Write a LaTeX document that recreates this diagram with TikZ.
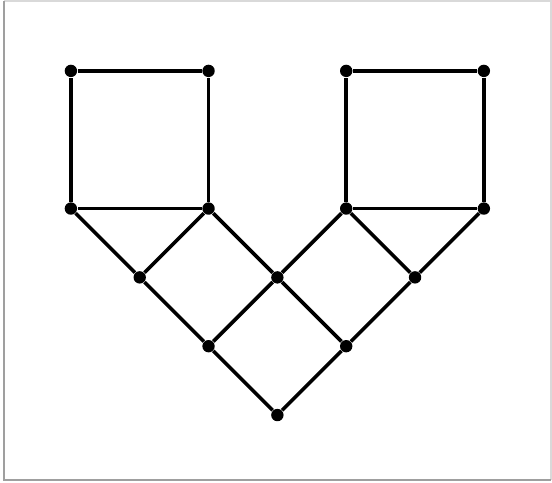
\documentclass[tikz,border=0pt]{standalone}
\usepackage{tikz}
\usetikzlibrary{positioning}
\tikzset{
  vtx/.style={circle,fill=black,inner sep=0pt,minimum size=1.8mm},
  edge/.style={line width=1.5pt,black},
  framel/.style={line width=.8pt,gray!75},
  framer/.style={line width=.8pt,gray!30}
}
\begin{document}
\begin{tikzpicture}
  \useasboundingbox (-1.03,1.03) rectangle (6.99,-5.98);
  % frame
  \coordinate (ftl) at (-0.97,1.01);
  \coordinate (fbl) at (-0.97,-5.95);
  \coordinate (ftr) at (6.97,1.01);
  \coordinate (fbr) at (6.97,-5.95);
  \draw[framer] (ftl)--(ftr)--(fbr);
  \draw[framel] (ftl)--(fbl)--(fbr);
  % squares
  \node[vtx] (a1) at (0,0) {};
  \node[vtx] (a2) at (2,0) {};
  \node[vtx] (a3) at (0,-2) {};
  \node[vtx] (a4) at (2,-2) {};
  \node[vtx] (b1) at (4,0) {};
  \node[vtx] (b2) at (6,0) {};
  \node[vtx] (b3) at (4,-2) {};
  \node[vtx] (b4) at (6,-2) {};
  % lattice below
  \node[vtx] (c1) at (1,-3) {};
  \node[vtx] (c2) at (3,-3) {};
  \node[vtx] (c3) at (5,-3) {};
  \node[vtx] (d1) at (2,-4) {};
  \node[vtx] (d2) at (4,-4) {};
  \node[vtx] (e) at (3,-5) {};
  \draw[edge] (a1)--(a2)--(a4)--(a3)--(a1);
  \draw[edge] (b1)--(b2)--(b4)--(b3)--(b1);
  \draw[edge] (a3)--(c1)--(a4)--(c2)--(b3)--(c3)--(b4);
  \draw[edge] (c1)--(d1)--(c2)--(d2)--(c3);
  \draw[edge] (d1)--(e)--(d2);
\end{tikzpicture}
\end{document}
